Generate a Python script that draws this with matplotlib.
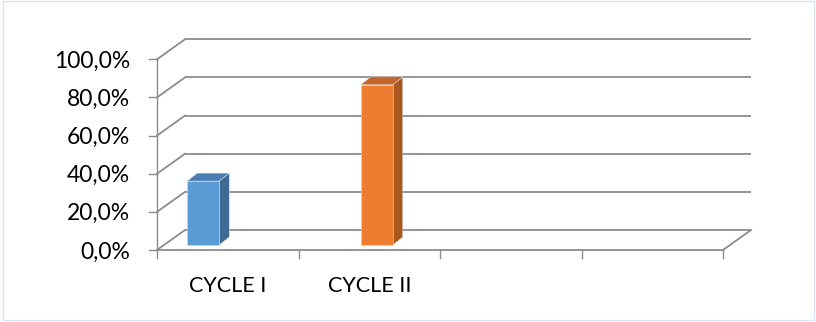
import matplotlib
matplotlib.use("Agg")
import matplotlib.pyplot as plt
from matplotlib.patches import Polygon, Rectangle
import numpy as np

categories = ["CYCLE I", "CYCLE II", "", ""]
series_cycle1 = [33.5, np.nan, np.nan, np.nan]
series_cycle2 = [np.nan, 84.0, np.nan, np.nan]
y_ticks = [0, 20, 40, 60, 80, 100]
y_tick_labels = ["0,0%", "20,0%", "40,0%", "60,0%", "80,0%", "100,0%"]

W, H = 816, 322
fig = plt.figure(figsize=(W / 100, H / 100), dpi=100)
fig.patch.set_facecolor("white")

# border
fig.add_artist(Rectangle((3 / W, 2 / H), (W - 5) / W, (H - 3) / H, transform=fig.transFigure,
                         fill=False, edgecolor="#DCE4F0", lw=1.0))

x0, x1 = 157, 723
yb, yt = 250, 59.3
ax = fig.add_axes([x0 / W, (H - yb) / H, (x1 - x0) / W, (yb - yt) / H])
ax.set_xlim(0, len(categories))
ax.set_ylim(0, 100)
ax.axis("off")

px_x = (x1 - x0) / len(categories)
px_y = (yb - yt) / 100.0
DX = 28 / px_x          # wall depth in data units
DY = 20 / px_y
grid_c = "#8C8C8C"
glw = 1.3

# back wall gridlines + left wall diagonals
for t, lab in zip(y_ticks, y_tick_labels):
    ax.plot([DX, len(categories) + DX], [t + DY, t + DY], color=grid_c, lw=glw, clip_on=False,
            solid_capstyle="butt")
    ax.plot([0, DX], [t, t + DY], color=grid_c, lw=glw, clip_on=False)
    ax.plot([-8 / px_x, 0], [t, t], color=grid_c, lw=1.0, clip_on=False)
    ax.text(-27 / px_x, t - 1.0, lab, ha="right", va="center",
            fontsize=16.5, family="Lato", color="#000000")

# floor
n = len(categories)
ax.plot([0, n], [0, 0], color=grid_c, lw=glw, clip_on=False)
ax.plot([n, n + DX], [0, DY], color=grid_c, lw=glw, clip_on=False)
# front vertical axis
ax.plot([0, 0], [0, 100], color=grid_c, lw=1.0, clip_on=False)
# category ticks
for i in range(n + 1):
    ax.plot([i, i], [0, -8 / px_y], color=grid_c, lw=1.0, clip_on=False)
for i, c in enumerate(categories):
    if c:
        ax.text(i + 0.5, -36 / px_y, c, ha="center", va="center", fontsize=15.5,
                family="Lato", color="#000000")

# bars
bw = 32 / px_x
shift = -8.5 / px_x
f = 0.25
fy = f * DY
ddx, ddy = 10 / px_x, 8 / px_y
styles = [("#5B9BD5", "#3E6A94", "#4A7DB3"), ("#ED7D31", "#A9561F", "#C4642A")]
for j, ser in enumerate([series_cycle1, series_cycle2]):
    front_c, side_c, top_c = styles[j]
    for i, v in enumerate(ser):
        if np.isnan(v):
            continue
        L = i + 0.5 - bw + j * bw + shift
        R = L + bw
        B = fy
        T = v + fy
        ax.add_patch(Polygon([(R, B), (R + ddx, B + ddy), (R + ddx, T + ddy), (R, T)],
                             closed=True, facecolor=side_c, edgecolor="#D9D9D9", lw=0.4,
                             clip_on=False, zorder=3))
        ax.add_patch(Polygon([(L, T), (R, T), (R + ddx, T + ddy), (L + ddx, T + ddy)],
                             closed=True, facecolor=top_c, edgecolor="#D9D9D9", lw=0.4,
                             clip_on=False, zorder=3))
        ax.add_patch(Rectangle((L, B), bw, v, facecolor=front_c, edgecolor="#D9D9D9", lw=0.4,
                               clip_on=False, zorder=4))

fig.savefig("out.png", dpi=100)
